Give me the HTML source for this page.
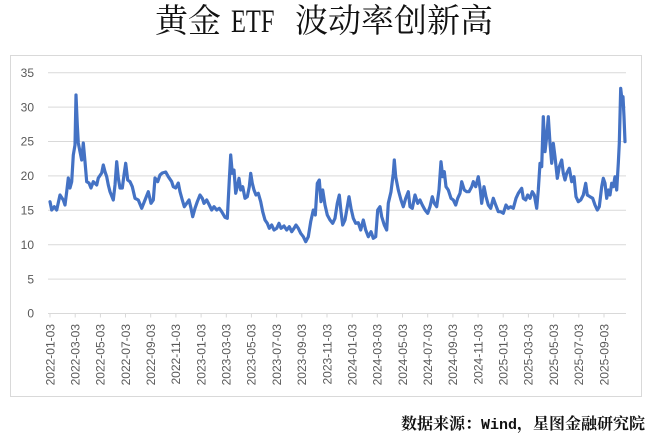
<!DOCTYPE html>
<html>
<head>
<meta charset="utf-8">
<style>
  html,body{margin:0;padding:0;background:#fff;}
  body{width:650px;height:439px;position:relative;overflow:hidden;}
  .t{position:absolute;top:6px;font-family:"Liberation Serif","Noto Serif CJK SC",serif;font-size:33px;line-height:33px;color:#111;white-space:nowrap;}
  .src{position:absolute;left:401px;top:416px;font-family:"Liberation Serif","Noto Serif CJK SC",serif;font-size:16px;line-height:18px;color:#111;white-space:nowrap;font-weight:bold;}
  .src .m{font-family:"Liberation Mono",monospace;font-size:15px;}
  svg{position:absolute;left:0;top:0;}
</style>
</head>
<body>
<div class="t" style="left:155px;">黄金</div>
<div class="t" style="left:231px;"><span style="display:inline-block;transform:scaleX(0.74);transform-origin:left center;">ETF</span></div>
<div class="t" style="left:295px;">波动率创新高</div>

<svg width="650" height="439" viewBox="0 0 650 439" xmlns="http://www.w3.org/2000/svg">
  <rect x="10.5" y="55.5" width="631" height="341" fill="none" stroke="#d9d9d9" stroke-width="1"/>
  <g stroke="#d9d9d9" stroke-width="1">
    <line x1="48" y1="72.7" x2="626" y2="72.7"/>
    <line x1="48" y1="107.1" x2="626" y2="107.1"/>
    <line x1="48" y1="141.5" x2="626" y2="141.5"/>
    <line x1="48" y1="175.9" x2="626" y2="175.9"/>
    <line x1="48" y1="210.3" x2="626" y2="210.3"/>
    <line x1="48" y1="244.7" x2="626" y2="244.7"/>
    <line x1="48" y1="279.1" x2="626" y2="279.1"/>
    <line x1="48" y1="313.5" x2="626" y2="313.5"/>
  </g>
  <g stroke="#d9d9d9" stroke-width="1">
    <line x1="50" y1="313.5" x2="50" y2="317.5"/>
    <line x1="75.2" y1="313.5" x2="75.2" y2="317.5"/>
    <line x1="100.4" y1="313.5" x2="100.4" y2="317.5"/>
    <line x1="125.5" y1="313.5" x2="125.5" y2="317.5"/>
    <line x1="150.7" y1="313.5" x2="150.7" y2="317.5"/>
    <line x1="175.9" y1="313.5" x2="175.9" y2="317.5"/>
    <line x1="201.1" y1="313.5" x2="201.1" y2="317.5"/>
    <line x1="226.3" y1="313.5" x2="226.3" y2="317.5"/>
    <line x1="251.4" y1="313.5" x2="251.4" y2="317.5"/>
    <line x1="276.6" y1="313.5" x2="276.6" y2="317.5"/>
    <line x1="301.8" y1="313.5" x2="301.8" y2="317.5"/>
    <line x1="327" y1="313.5" x2="327" y2="317.5"/>
    <line x1="352.2" y1="313.5" x2="352.2" y2="317.5"/>
    <line x1="377.3" y1="313.5" x2="377.3" y2="317.5"/>
    <line x1="402.5" y1="313.5" x2="402.5" y2="317.5"/>
    <line x1="427.7" y1="313.5" x2="427.7" y2="317.5"/>
    <line x1="452.9" y1="313.5" x2="452.9" y2="317.5"/>
    <line x1="478.1" y1="313.5" x2="478.1" y2="317.5"/>
    <line x1="503.2" y1="313.5" x2="503.2" y2="317.5"/>
    <line x1="528.4" y1="313.5" x2="528.4" y2="317.5"/>
    <line x1="553.6" y1="313.5" x2="553.6" y2="317.5"/>
    <line x1="578.8" y1="313.5" x2="578.8" y2="317.5"/>
    <line x1="604" y1="313.5" x2="604" y2="317.5"/>
  </g>
  <g font-family="Liberation Sans, sans-serif" font-size="12" fill="#595959" text-anchor="end">
    <text x="34" y="76.9">35</text>
    <text x="34" y="111.3">30</text>
    <text x="34" y="145.7">25</text>
    <text x="34" y="180.1">20</text>
    <text x="34" y="214.5">15</text>
    <text x="34" y="248.9">10</text>
    <text x="34" y="283.3">5</text>
    <text x="34" y="317.7">0</text>
  </g>
  <g font-family="Liberation Sans, sans-serif" font-size="12" fill="#595959" text-anchor="end">
    <text transform="translate(54.3,324) rotate(-90)">2022-01-03</text>
    <text transform="translate(79.5,324) rotate(-90)">2022-03-03</text>
    <text transform="translate(104.7,324) rotate(-90)">2022-05-03</text>
    <text transform="translate(129.8,324) rotate(-90)">2022-07-03</text>
    <text transform="translate(155,324) rotate(-90)">2022-09-03</text>
    <text transform="translate(180.2,324) rotate(-90)">2022-11-03</text>
    <text transform="translate(205.4,324) rotate(-90)">2023-01-03</text>
    <text transform="translate(230.6,324) rotate(-90)">2023-03-03</text>
    <text transform="translate(255.7,324) rotate(-90)">2023-05-03</text>
    <text transform="translate(280.9,324) rotate(-90)">2023-07-03</text>
    <text transform="translate(306.1,324) rotate(-90)">2023-09-03</text>
    <text transform="translate(331.3,324) rotate(-90)">2023-11-03</text>
    <text transform="translate(356.5,324) rotate(-90)">2024-01-03</text>
    <text transform="translate(381.6,324) rotate(-90)">2024-03-03</text>
    <text transform="translate(406.8,324) rotate(-90)">2024-05-03</text>
    <text transform="translate(432,324) rotate(-90)">2024-07-03</text>
    <text transform="translate(457.2,324) rotate(-90)">2024-09-03</text>
    <text transform="translate(482.4,324) rotate(-90)">2024-11-03</text>
    <text transform="translate(507.5,324) rotate(-90)">2025-01-03</text>
    <text transform="translate(532.7,324) rotate(-90)">2025-03-03</text>
    <text transform="translate(557.9,324) rotate(-90)">2025-05-03</text>
    <text transform="translate(583.1,324) rotate(-90)">2025-07-03</text>
    <text transform="translate(608.3,324) rotate(-90)">2025-09-03</text>
  </g>
  <polyline fill="none" stroke="#4472c4" stroke-width="3.2" stroke-linejoin="round" stroke-linecap="round" points="
50,201.7 51.7,210 54.3,206.7 56.7,210 60,195 63.3,200 65,205 66.7,191.7 68.3,178 70,188 71.7,181.7 73.3,155 75,145 76,95 77.3,125 78.3,143 80,151.7 81.7,160 83.3,143 85,161.7 86.7,181.7 89,183 91,188 93.3,181.7 96.7,185 98.3,178 101.7,173 103.3,165 105,171.7 106.7,176.7 108.3,185 110,191.7 113.3,200 115,185 116.7,161.7 118.3,178 120,188 122.3,188 124,175 125.7,163.3 127.7,180 130,181.7 132.3,186.7 135,198.3 138.3,200 141.7,208.3 145,200 148.3,191.7 151,203.3 153.3,200 155,178 157.7,181.7 160,175 162.3,173 165.7,172 168.3,176.7 171.7,181.7 173.3,186.7 175.7,188 178.3,183 180,191.7 182.3,200 184.3,206.7 186.7,203.3 189,200 191,208.3 192.7,216.7
195,208.3 197.3,201.7 200,195 202.3,198.3 204,203.3 206.7,200 209.3,205 211.7,210 214,206.7 216.7,210 219.3,208.3 221.7,211.7 225,217.3 227.3,218.3 229.3,180 230.7,155 232.3,173.3 234,170 235.7,193.3 237.3,186.7 239,178.3 240.7,190 242.7,186.7 245,198.3 247.3,196.7 249.3,186.7 250.7,173.3 252.3,183.3 254,190 256,195 258.3,193.3 260.7,201.7 262.7,211.7 265,220 267.3,223.3 269.3,228.3 271.7,225 274,230 276.7,228.3 279,223.3 281,228.3 284,226 286.7,230 289.3,226.7 291.7,231.7 294,228.3 296,225 298.3,228.3 300.7,233.3 303.3,236.7 305.7,241.7 308.3,236.7 310.7,221.7 313.3,210 315.3,215 317.3,183.3 319.3,180 321,201.7 322.7,190 325,205 327.3,215 330,220 332.7,223.3 335,218.3 337.3,203.3 339.3,195
341,211.7 342.7,225 345,220 347.3,206.7 349,196.7 351,208.3 353.3,218.3 355.7,223.3 358.3,222.7 360.7,230 363.3,220 365.7,230 368.3,236.7 371,231.7 373.3,238.3 375.7,236.7 377.7,210 380,206.7 381.7,216.7 384.3,225 386.7,230 388.3,203.3 391,191.7 393.3,173.3 394.3,160 395.7,176.7 398.3,190 401,200 403.3,206.7 405.7,198.3 408.3,191.7 410,206.7 412.3,208.3 415,195 417.7,203.3 420,200 422.3,205 425,210 427.7,213.3 430,206.7 432.3,196.7 434.3,203.3 436.7,206.7 439,190 441,161.7 442.7,176.7 444.3,171.7 446,186.7 448.3,190 451,198.3 453.3,200 455.7,205 457.7,198.3 460,193.3 461.7,181.7 464.3,190 466.7,191.7 469,191.7 471.7,186.7 473.3,181.7 475.7,186.7 478.3,176.7 480.3,190 481.7,203.3 484,186.7
486,196.7 488.3,205 490.7,208.3 493.3,198.3 495.7,205 498.3,211.7 500.7,211.7 503.3,213.3 506,205 508.3,208.3 510.7,206.7 513.3,208.3 516,198.3 518.3,193.3 521.7,188.3 523.3,198.3 525.7,200 527.7,195 530,198.3 532.3,191.7 534.3,195 536.7,208.3 538.3,190 540,163.3 541.7,166.7 543.3,116.7 545,151.7 546.7,136.7 548.3,116.7 550,143.3 551.7,163.3 553.3,143.3 555,156.7 557.3,178.3 559.3,166.7 561.7,160 563.3,173.3 565,180 566.7,173.3 569.3,168.3 571.7,181.7 574,176.7 576,196.7 578.3,201.7 580.7,200 583.3,195 585.7,183.3 587.3,195 590,196.7 592.7,198.3 595,205 597.3,210 599.3,206.7 601.7,186.7 603.3,178.3 605,183.3 606.7,198.3 608.3,190 610,195 611.7,183.3 613.3,186.7 615,176.7 616.7,190 618.3,163.3 619.3,143.3 620.7,88.3 622,100 623,96.7 624,116.7 625,141.7"/>
</svg>

<div class="src">数据来源：<span class="m">Wind</span>，星图金融研究院</div>
</body>
</html>
